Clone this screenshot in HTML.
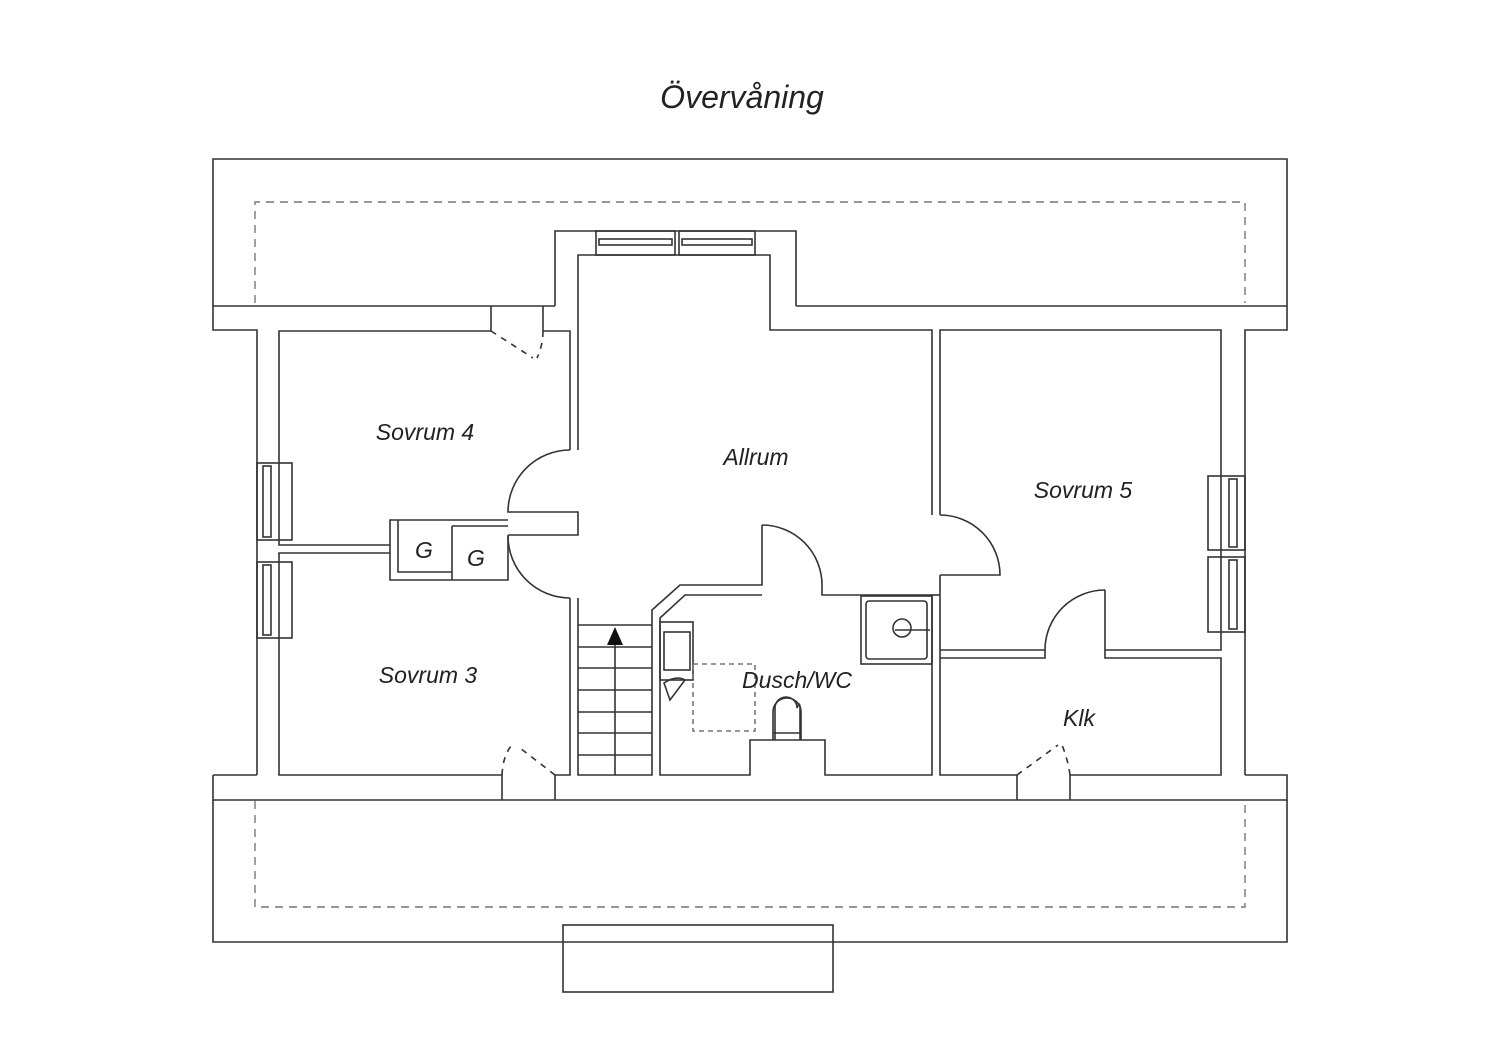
<!DOCTYPE html>
<html><head><meta charset="utf-8"><style>
html,body{margin:0;padding:0;background:#fff;}
svg{display:block}
text{font-family:"Liberation Sans",sans-serif;font-style:italic;fill:#222;}
</style></head><body>
<svg width="1500" height="1060" viewBox="0 0 1500 1060" xmlns="http://www.w3.org/2000/svg">
<g fill="none" stroke="#333" stroke-width="1.6">
<!-- outer top band -->
<polyline points="555,306 213,306 213,159 1287,159 1287,306 796,306"/>
<polyline points="213,306 213,330 257,330 257,775"/>
<polyline points="1287,306 1287,330 1245,330 1245,775"/>
<!-- bottom band -->
<polyline points="213,800 213,942 1287,942 1287,800"/>
<polyline points="213,775 213,800 1287,800 1287,775 1245,775"/>
<line x1="213" y1="775" x2="257" y2="775"/>
<rect x="563" y="925" width="270" height="67"/>
<!-- dormer -->
<polyline points="555,306 555,231 796,231 796,306"/>
<polyline points="570,450 570,331 543,331"/>
<polyline points="491,331 279,331 279,545 390,545"/>
<polyline points="578,450 578,255 770,255 770,330 932,330 932,515"/>
<!-- sovrum4 door top -->
<line x1="491" y1="306" x2="491" y2="331"/>
<line x1="543" y1="306" x2="543" y2="331"/>
<path d="M491,331 L533,358" stroke-dasharray="6,6"/>
<path d="M543,331 Q543,345 537,358" stroke-dasharray="6,6"/>
<!-- allrum/sovrum4 door -->
<path d="M570,450 A62,62 0 0 0 508,512 L578,512 L578,535 L508,535"/>
<path d="M570,598 A62,62 0 0 1 508,536"/>
<!-- G boxes -->
<polyline points="508,520 390,520 390,580 508,580 508,535"/>
<polyline points="398,520 398,572 452,572"/>
<line x1="452" y1="526" x2="452" y2="580"/>
<line x1="452" y1="526" x2="508" y2="526"/>
<polyline points="390,553 279,553 279,775 502,775 502,800"/>
<!-- left windows -->
<rect x="257" y="463" width="35" height="77"/>
<rect x="263" y="466" width="8" height="71"/>
<rect x="257" y="562" width="35" height="76"/>
<rect x="263" y="565" width="8" height="70"/>
<!-- top windows -->
<rect x="596" y="231" width="79" height="24"/>
<rect x="599" y="239" width="73" height="6"/>
<rect x="679" y="231" width="76" height="24"/>
<rect x="682" y="239" width="70" height="6"/>
<!-- sovrum3 door -->
<line x1="555" y1="775" x2="555" y2="800"/>
<path d="M502,775 Q503,755 512,745" stroke-dasharray="6,6"/>
<path d="M555,775 L520,748" stroke-dasharray="6,6"/>
<!-- stair walls -->
<polyline points="570,598 570,775 555,775"/>
<polyline points="578,598 578,775 652,775 652,610 680,585 762,585 762,525"/>
<rect x="578" y="625" width="74" height="150" stroke-width="0"/>
<line x1="578" y1="625" x2="652" y2="625"/>
<line x1="578" y1="647" x2="652" y2="647"/>
<line x1="578" y1="668" x2="652" y2="668"/>
<line x1="578" y1="690" x2="652" y2="690"/>
<line x1="578" y1="712" x2="652" y2="712"/>
<line x1="578" y1="733" x2="652" y2="733"/>
<line x1="578" y1="755" x2="652" y2="755"/>
<line x1="615" y1="645" x2="615" y2="775"/>
<!-- bathroom -->
<polyline points="822,585 822,595 932,595 932,775 825,775 825,740 750,740 750,775 660,775 660,618 685,595 762,595"/>
<path d="M762,525 A60,60 0 0 1 822,585"/>
<!-- door to sovrum5 -->
<path d="M940,515 A60,60 0 0 1 1000,575 L940,575"/>
<polyline points="940,515 940,330 1221,330 1221,650 1105,650 1105,590"/>
<polyline points="932,515 932,515"/>
<path d="M1105,590 A60,60 0 0 0 1045,650 L940,650 L940,575"/>
<polyline points="940,650 940,658 1045,658 1045,650"/>
<polyline points="1105,650 1105,658 1221,658 1221,775 1070,775 1070,800"/>
<polyline points="940,658 940,775 1017,775 1017,800"/>
<line x1="932" y1="595" x2="940" y2="595"/>
<path d="M1017,775 L1058,745" stroke-dasharray="6,6"/>
<path d="M1070,775 Q1068,760 1062,745" stroke-dasharray="6,6"/>
<!-- right windows -->
<rect x="1208" y="476" width="37" height="74"/>
<rect x="1229" y="479" width="8" height="68"/>
<rect x="1208" y="557" width="37" height="75"/>
<rect x="1229" y="560" width="8" height="69"/>
<!-- shower -->
<rect x="861" y="596" width="71" height="68"/>
<rect x="866" y="601" width="61" height="58" rx="3"/>
<circle cx="902" cy="628" r="9"/>
<line x1="895" y1="630" x2="930" y2="630"/>
<!-- sink -->
<rect x="660" y="622" width="33" height="58"/>
<rect x="664" y="632" width="26" height="38"/>
<path d="M664,683 Q676,675 685,680 L670,700 Z"/>
<rect x="693" y="664" width="62" height="67" stroke-dasharray="5,4" stroke="#777"/>
<!-- toilet -->
<path d="M775,740 L775,708 A11,11 0 0 1 797,708 Q800,700 800,708 L800,740"/>
<path d="M773,740 L773,712 A14,14 0 0 1 801,712 L801,740"/>
<line x1="773" y1="733" x2="801" y2="733"/>
</g>
<!-- dashed roof lines -->
<g fill="none" stroke="#777" stroke-width="1.4" stroke-dasharray="8,6">
<polyline points="255,303 255,202 1245,202 1245,303"/>
<polyline points="255,801 255,907 1245,907 1245,801"/>
</g>
<polygon points="615,627 607,645 623,645" fill="#111"/>
<text x="742" y="108" font-size="32" text-anchor="middle">Övervåning</text>
<g font-size="23" text-anchor="middle">
<text x="425" y="440">Sovrum 4</text>
<text x="756" y="465">Allrum</text>
<text x="1083" y="498">Sovrum 5</text>
<text x="428" y="683">Sovrum 3</text>
<text x="797" y="688">Dusch/WC</text>
<text x="1079" y="726">Klk</text>
<text x="424" y="558">G</text>
<text x="476" y="566">G</text>
</g>
</svg>
</body></html>
